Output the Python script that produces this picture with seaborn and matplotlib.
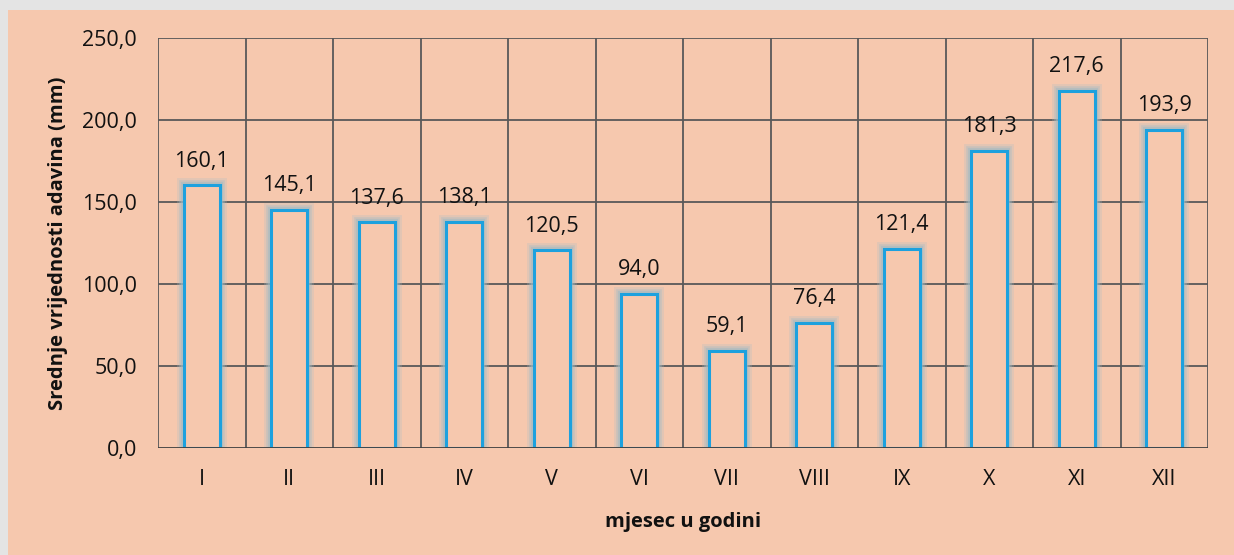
import matplotlib
matplotlib.use("Agg")
import matplotlib.pyplot as plt
import matplotlib.patheffects as pe
from matplotlib.patches import Rectangle
import pandas as pd
import seaborn as sns

# podaci - srednje mjesecne padavine
mjeseci = ["I", "II", "III", "IV", "V", "VI", "VII", "VIII", "IX", "X", "XI", "XII"]
padavine = [160.1, 145.1, 137.6, 138.1, 120.5, 94.0, 59.1, 76.4, 121.4, 181.3, 217.6, 193.9]
y_ticks = [0, 50, 100, 150, 200, 250]

df = pd.DataFrame({"mjesec": mjeseci, "padavine": padavine})

bg = "#F6C8AE"
plava = "#1DA1DE"
siva = "#595959"

sns.set_theme(style="white")
plt.rcParams["font.family"] = ["Open Sans", "DejaVu Sans"]

fig = plt.figure(figsize=(12.34, 5.55), dpi=100)
fig.patch.set_facecolor("#E4E4E4")
fig.patches.append(Rectangle((8 / 1234, 0), 1, 1 - 10 / 555, transform=fig.transFigure,
                             facecolor=bg, edgecolor="none", zorder=-10))

ax = fig.add_axes([158 / 1234, 1 - 448 / 555, 1050 / 1234, 410 / 555])
ax.set_facecolor(bg)

sns.barplot(data=df, x="mjesec", y="padavine", ax=ax, color=bg, edgecolor=plava,
            linewidth=2.2, width=0.41, saturation=1, zorder=3)

# sjaj oko stubova
for p in ax.patches:
    p.set_path_effects([pe.Stroke(linewidth=10, foreground="#A8BFC6", alpha=0.25),
                        pe.Stroke(linewidth=7, foreground="#A3BCC5", alpha=0.35),
                        pe.Stroke(linewidth=4.5, foreground="#9FBAC4", alpha=0.5),
                        pe.Normal()])

# oznake vrijednosti
for i, v in enumerate(padavine):
    ax.annotate(f"{v:.1f}".replace(".", ","), (i, v), xytext=(0, 13.5), textcoords="offset points",
                ha="center", va="baseline", fontsize=15.5, color="#111111")

ax.set_ylim(0, 250)
ax.set_xlim(-0.5, len(mjeseci) - 0.5)
ax.set_yticks(y_ticks)
ax.set_yticklabels([f"{t:.1f}".replace(".", ",") for t in y_ticks])

# mreza
for t in y_ticks[1:]:
    ax.axhline(t, color=siva, lw=1.3, zorder=1)
for k in range(len(mjeseci) + 1):
    ax.axvline(k - 0.5, color=siva, lw=1.3, zorder=1)

for s in ax.spines.values():
    s.set_visible(False)
ax.axhline(0, color="#404040", lw=2, zorder=4)

ax.tick_params(axis="both", length=0, labelsize=15.5, colors="#111111")
ax.tick_params(axis="y", pad=15)
ax.tick_params(axis="x", pad=15)

ax.set_xlabel("mjesec u godini", fontsize=14.5, fontweight="bold", labelpad=16, color="#111111")
ax.set_ylabel("Srednje vrijednosti adavina (mm)", fontsize=14.5, fontweight="bold",
              labelpad=10, color="#111111")

fig.savefig("out.png", dpi=100, facecolor=fig.get_facecolor())
